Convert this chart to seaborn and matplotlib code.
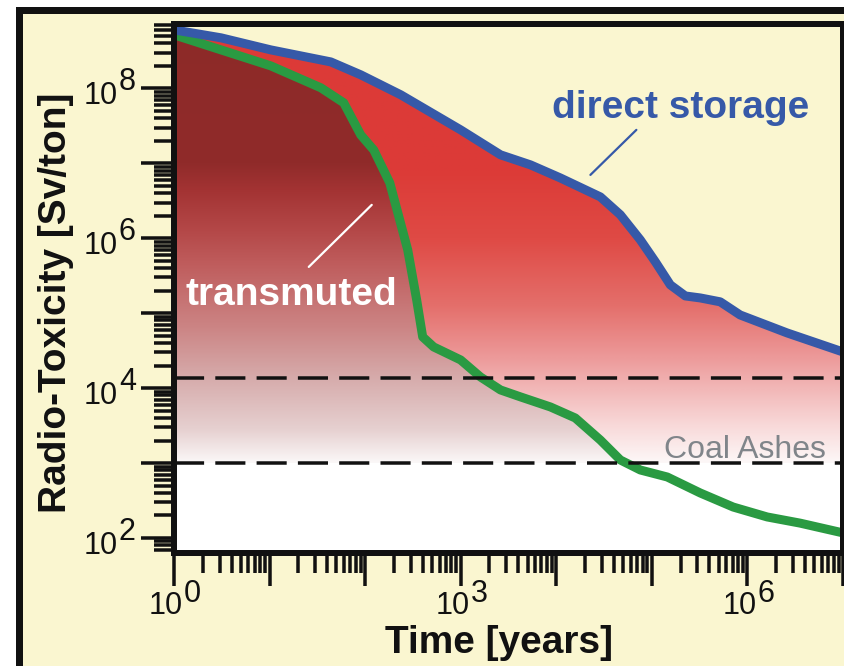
import numpy as np
import pandas as pd
import matplotlib
matplotlib.use("Agg")
import matplotlib.pyplot as plt
import seaborn as sns
from matplotlib.colors import to_rgb
from matplotlib.patches import Polygon, Rectangle
from matplotlib.image import AxesImage
from matplotlib.ticker import LogLocator, NullFormatter

# ---------------- data ----------------
direct_years = [1, 3.1, 10.3, 43.7, 89.9, 236, 998, 2610, 5370, 11000, 28900, 46800,
                75700, 109000, 156000, 224000, 321000, 519000, 839000, 2.6e6, 1e7]
direct_tox = [6.05e8, 4.74e8, 3.27e8, 2.26e8, 1.52e8, 8.22e7, 2.80e7, 1.30e7, 9.55e6,
              6.40e6, 3.57e6, 2.06e6, 9.53e5, 4.84e5, 2.39e5, 1.70e5, 1.60e5, 1.42e5,
              9.48e4, 5.46e4, 3.04e4]

trans_years = [1, 3.1, 10.3, 34.4, 59.7, 89.9, 123, 181, 279, 346, 400, 521, 998, 1610,
               2610, 4230, 8690, 15800, 28900, 46800, 75700, 145000, 321000, 710000,
               1.61e6, 3.56e6, 1e7]
trans_tox = [5.20e8, 3.27e8, 2.00e8, 1.02e8, 6.43e7, 2.40e7, 1.51e7, 5.50e6, 7.0e5,
             1.51e5, 4.83e4, 3.55e4, 2.38e4, 1.41e4, 9460, 7640, 5610, 4000, 2030, 1100,
             809, 652, 399, 259, 191, 158, 117]

upper_ref_level = 1.37e4
coal_ashes_level = 1.0e3

x_label = "Time [years]"
y_label = "Radio-Toxicity [Sv/ton]"
x_label_exps = [0, 3, 6]
y_label_exps = [2, 4, 6, 8]

# ---------------- style ----------------
PALE = "#faf6d0"
BLUE = "#3659a8"
GREEN = "#2a9a42"
BLACK = "#111111"
GRAY = "#80858a"

sns.set_style("white")
plt.rcParams["font.family"] = ["Liberation Sans", "DejaVu Sans"]

W, H = 845, 666
fig = plt.figure(figsize=(W / 100, H / 100), dpi=100, facecolor="white")
PX = 72 / 100  # points per pixel

# outer frame
fig.add_artist(Rectangle((18.5 / W, -0.1), 1.2, (H - 10.5) / H + 0.1,
                         transform=fig.transFigure, facecolor=PALE,
                         edgecolor=BLACK, lw=7 * PX, zorder=-5))

ax_l, ax_r, ax_t, ax_b = 174, 843, 24, 553
ax = fig.add_axes([ax_l / W, (H - ax_b) / H, (ax_r - ax_l) / W, (ax_b - ax_t) / H])
ax.set_xscale("log")
ax.set_yscale("log")
YLO, YHI = 10 ** 1.8, 10 ** 8.86
ax.set_xlim(1, 1e7)
ax.set_ylim(YLO, YHI)
ax.set_facecolor(PALE)

# gradient fills
def gradient(stops):
    fr = np.linspace(0, 1, 700)
    ly = np.log10(YLO) + fr * (np.log10(YHI) - np.log10(YLO))
    vals = np.array([s[0] for s in stops])
    cols = np.array([to_rgb(s[1]) for s in stops])
    o = np.argsort(vals)
    vals, cols = vals[o], cols[o]
    rgb = np.stack([np.interp(ly, vals, cols[:, k]) for k in range(3)], axis=-1)
    return np.repeat(rgb[:, None, :], 2, axis=1)

red_stops = [(9.0, "#dc3a38"), (6.9, "#dc3b37"), (6.0, "#df4a45"), (5.1, "#e46f6b"),
             (4.45, "#ec9797"), (4.14, "#f0adad"), (3.5, "#f8d9d9"), (3.0, "#fdf8f8")]
dark_stops = [(9.0, "#8d2a28"), (7.0, "#902b2a"), (6.65, "#a33333"), (6.1, "#b44848"),
              (5.65, "#bf5d5d"), (4.8, "#cc8585"), (4.14, "#d6abab"), (3.45, "#e6d0d0"),
              (3.0, "#fbf8f8")]

def add_grad(years, tox, stops, z):
    verts = [(years[0], YLO / 10)] + list(zip(years, tox)) + [(years[-1], YLO / 10)]
    poly = Polygon(verts, closed=True, transform=ax.transData, fc="none", ec="none")
    im = AxesImage(ax, extent=(0, 1, 0, 1), transform=ax.transAxes, origin="lower",
                   interpolation="bilinear", zorder=z)
    im.set_data(gradient(stops))
    ax.add_artist(im)
    im.set_clip_path(poly)

add_grad(direct_years, direct_tox, red_stops, 1)
add_grad(trans_years, trans_tox, dark_stops, 2)
ax.axhspan(YLO / 10, coal_ashes_level, color="white", zorder=3, lw=0)

# curves
df_t = pd.DataFrame({"years": trans_years, "tox": trans_tox})
df_d = pd.DataFrame({"years": direct_years, "tox": direct_tox})
sns.lineplot(data=df_t, x="years", y="tox", ax=ax, color=GREEN, lw=9 * PX,
             sort=False, estimator=None, zorder=4, solid_joinstyle="round",
             solid_capstyle="round")
sns.lineplot(data=df_d, x="years", y="tox", ax=ax, color=BLUE, lw=9 * PX,
             sort=False, estimator=None, zorder=5, solid_joinstyle="round",
             solid_capstyle="round")

for lvl in (upper_ref_level, coal_ashes_level):
    ax.axhline(lvl, color=BLACK, lw=3.5 * PX, linestyle=(0, (8.6, 3.2)), zorder=6)

# annotations
ax.text(10 ** 5.3, 10 ** 7.607, "direct storage", color=BLUE, fontsize=28,
        fontweight="bold", ha="center", va="baseline", zorder=7)
ax.plot([10 ** 4.357, 10 ** 4.838], [10 ** 6.846, 10 ** 7.447], color=BLUE, lw=1.6,
        zorder=7)
ax.text(10 ** 1.228, 10 ** 5.111, "transmuted", color="white", fontsize=28,
        fontweight="bold", ha="center", va="baseline", zorder=7)
ax.plot([10 ** 1.41, 10 ** 2.069], [10 ** 5.618, 10 ** 6.446], color="white", lw=1.6,
        zorder=7)
ax.text(10 ** 5.97, 10 ** 3.068, "Coal Ashes", color=GRAY, fontsize=23,
        ha="center", va="baseline", zorder=7)

# axes / ticks
for s in ax.spines.values():
    s.set_visible(True)
    s.set_linewidth(6 * PX)
    s.set_color(BLACK)
    s.set_zorder(8)
for axis in (ax.xaxis, ax.yaxis):
    axis.set_major_locator(LogLocator(base=10, numticks=30))
    axis.set_minor_locator(LogLocator(base=10, subs=np.arange(2, 10), numticks=300))
    axis.set_major_formatter(NullFormatter())
    axis.set_minor_formatter(NullFormatter())
ax.tick_params(which="both", direction="out", color=BLACK, width=3.5 * PX,
               bottom=True, left=True, top=False, right=False,
               labelbottom=False, labelleft=False)
ax.tick_params(which="major", length=24)
ax.tick_params(which="minor", length=14.5)
ax.set_xlim(1, 1e7)
ax.set_ylim(YLO, YHI)

# tick labels as "10" + raised exponent at equal size
for e in y_label_exps:
    ax.annotate("10", xy=(0, 10 ** e), xycoords=("axes fraction", "data"),
                xytext=(-56 * PX, -15.5 * PX), textcoords="offset points",
                ha="right", va="baseline", fontsize=22, color=BLACK)
    ax.annotate(str(e), xy=(0, 10 ** e), xycoords=("axes fraction", "data"),
                xytext=(-55 * PX, -1.5 * PX), textcoords="offset points",
                ha="left", va="baseline", fontsize=22, color=BLACK)
for e in x_label_exps:
    ax.annotate("10", xy=(10 ** e, 0), xycoords=("data", "axes fraction"),
                xytext=(9 * PX, -61 * PX), textcoords="offset points",
                ha="right", va="baseline", fontsize=22, color=BLACK,
                annotation_clip=False)
    ax.annotate(str(e), xy=(10 ** e, 0), xycoords=("data", "axes fraction"),
                xytext=(10 * PX, -48.5 * PX), textcoords="offset points",
                ha="left", va="baseline", fontsize=22, color=BLACK,
                annotation_clip=False)

ax.set_xlabel(x_label, fontsize=28, fontweight="bold", color=BLACK)
ax.xaxis.label.set_verticalalignment("baseline")
ax.xaxis.set_label_coords((499.5 - ax_l) / (ax_r - ax_l), (ax_b - 653) / (ax_b - ax_t))
ax.set_ylabel(y_label, fontsize=28, fontweight="bold", color=BLACK)
ax.yaxis.label.set_verticalalignment("baseline")
ax.yaxis.label.set_rotation_mode("anchor")
ax.yaxis.set_label_coords((66 - ax_l) / (ax_r - ax_l), (ax_b - 302.5) / (ax_b - ax_t))

fig.savefig("out.png", dpi=100, facecolor="white")
